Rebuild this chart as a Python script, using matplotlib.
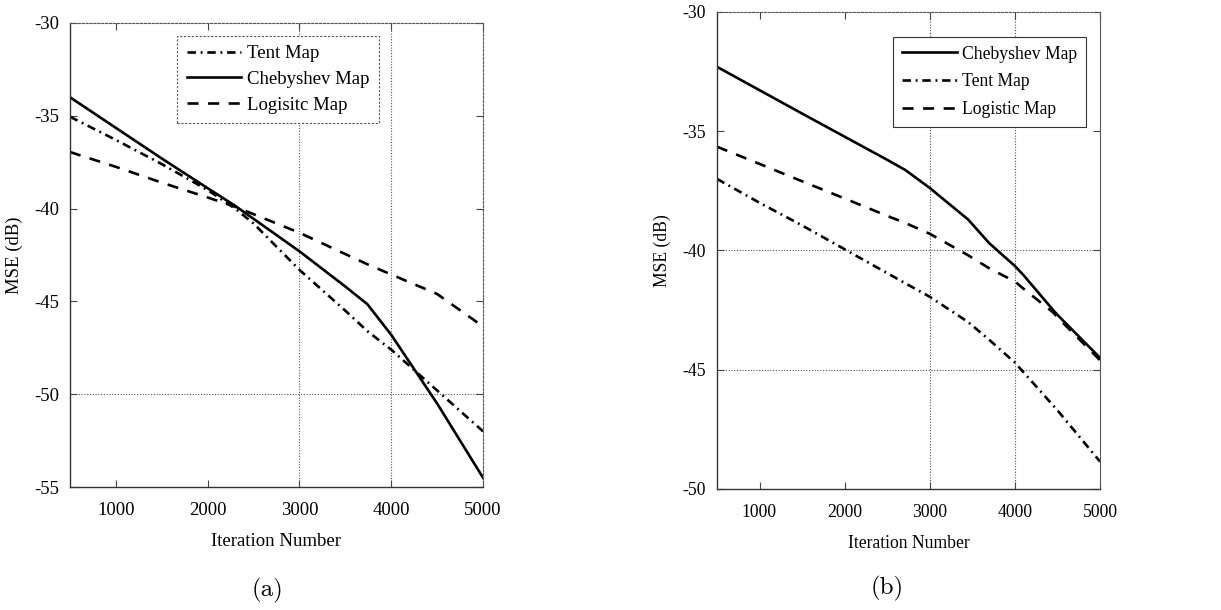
import matplotlib
matplotlib.use("Agg")
import matplotlib.pyplot as plt

plt.rcParams['font.family'] = ['Liberation Serif', 'DejaVu Serif']
plt.rcParams['axes.unicode_minus'] = False

# panel (a)
iters_a = [500, 1000, 1500, 2000, 2300, 2500, 3000, 3500, 3740, 4000, 4500, 5000]
cheb_a = [-34.0, -35.65, -37.3, -38.9, -39.85, -40.55, -42.3, -44.2, -45.15, -46.8, -50.5, -54.5]
tent_a = [-35.05, -36.3, -37.6, -39.0, -40.0, -40.8, -43.3, -45.5, -46.6, -47.6, -49.8, -52.0]
logi_a = [-36.95, -37.75, -38.6, -39.4, -39.9, -40.3, -41.3, -42.45, -43.0, -43.55, -44.6, -46.35]

# panel (b)
iters_b = [500, 1000, 1500, 2000, 2500, 2714, 3000, 3450, 3700, 4000, 4100, 4450, 4500, 5000]
cheb_b = [-32.3, -33.28, -34.26, -35.23, -36.2, -36.63, -37.38, -38.7, -39.7, -40.65, -41.03, -42.5, -42.7, -44.5]
tent_b = [-37.0, -38.0, -38.95, -39.95, -40.95, -41.38, -41.94, -43.0, -43.75, -44.7, -45.1, -46.5, -46.7, -48.85]
logi_b = [-35.65, -36.37, -37.1, -37.82, -38.55, -38.85, -39.3, -40.2, -40.75, -41.3, -41.6, -42.6, -42.8, -44.6]

ticks_x = [1000, 2000, 3000, 4000, 5000]

LW = 1.9
tent_dash = (3.2, 1.8, 0.7, 1.8)
logi_dash = (4.2, 3.6)

fig = plt.figure(figsize=(12.21, 6.10), dpi=100)
ax1 = fig.add_axes([0.0573, 0.2016, 0.3383, 0.7607])
ax2 = fig.add_axes([0.5872, 0.1984, 0.3137, 0.7820])


def style_axes(ax, ylim, yticks, hgrid, right_dotted, fs):
    ax.set_xlim(500, 5000)
    ax.set_ylim(*ylim)
    ax.set_xticks(ticks_x)
    ax.set_yticks(yticks)
    for v in [3000, 4000]:
        ax.axvline(v, color='#555555', linestyle=(0, (1, 1.5)), linewidth=0.8, zorder=0)
    for v in hgrid:
        ax.axhline(v, color='#555555', linestyle=(0, (1, 1.5)), linewidth=0.8, zorder=0)
    ax.tick_params(direction='in', top=True, right=True, length=5, width=0.8,
                   color='#444444', labelsize=fs)
    ax.tick_params(axis='x', pad=11)
    ax.tick_params(axis='y', pad=8)
    for s in ['left', 'bottom']:
        ax.spines[s].set_color('#333333')
        ax.spines[s].set_linewidth(1.0)
    ax.spines['top'].set_linestyle((0, (2, 1.5)))
    ax.spines['top'].set_linewidth(0.8)
    ax.spines['top'].set_color('#555555')
    ax.spines['right'].set_linewidth(0.8)
    ax.spines['right'].set_color('#555555')
    if right_dotted:
        ax.spines['right'].set_linestyle((0, (2, 1.5)))
    ax.set_xlabel('Iteration Number', fontsize=fs, labelpad=10)
    ax.set_ylabel('MSE (dB)', fontsize=fs, labelpad=8)


# (a)
ax1.plot(iters_a, tent_a, color='black', lw=LW, dashes=tent_dash, label='Tent Map')
ax1.plot(iters_a, cheb_a, color='black', lw=LW, label='Chebyshev Map')
ax1.plot(iters_a, logi_a, color='black', lw=LW, dashes=logi_dash, label='Logisitc Map')
style_axes(ax1, (-55, -30), [-55, -50, -45, -40, -35, -30], [-50], True, 13.5)
leg1 = ax1.legend(loc='upper left', bbox_to_anchor=(0.26, 0.972), fontsize=13.5,
                  fancybox=False, framealpha=1, edgecolor='#555555',
                  handlelength=2.9, handletextpad=0.3, borderpad=0.5,
                  labelspacing=0.45, borderaxespad=0)
leg1.get_frame().set_linewidth(0.8)
leg1.get_frame().set_linestyle((0, (2, 1.5)))

# (b)
ax2.plot(iters_b, cheb_b, color='black', lw=LW, label='Chebyshev Map')
ax2.plot(iters_b, tent_b, color='black', lw=LW, dashes=tent_dash, label='Tent Map')
ax2.plot(iters_b, logi_b, color='black', lw=LW, dashes=logi_dash, label='Logistic Map')
style_axes(ax2, (-50, -30), [-50, -45, -40, -35, -30], [-40, -45], False, 12.7)
leg2 = ax2.legend(loc='upper left', bbox_to_anchor=(0.46, 0.948), fontsize=12.7,
                  fancybox=False, framealpha=1, edgecolor='#333333',
                  handlelength=3.1, handletextpad=0.3, borderpad=0.5,
                  labelspacing=0.6, borderaxespad=0)
leg2.get_frame().set_linewidth(0.8)

fig.text(0.219, 0.032, '(a)', family='cmr10', fontsize=18, ha='center', va='center')
fig.text(0.727, 0.036, '(b)', family='cmr10', fontsize=18, ha='center', va='center')

fig.savefig('out.png', dpi=100)
